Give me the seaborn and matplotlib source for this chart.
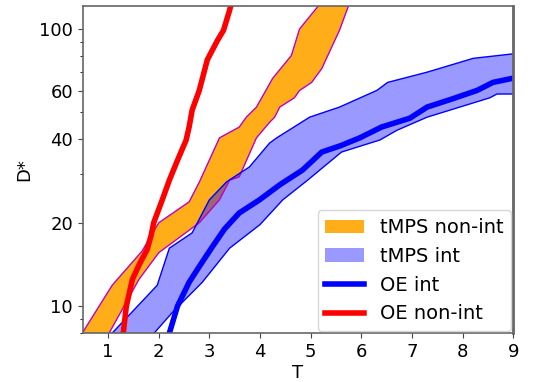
import numpy as np
import pandas as pd
import seaborn as sns
import matplotlib.pyplot as plt
from matplotlib.ticker import FixedLocator, NullFormatter, FixedFormatter

plt.rcParams['font.family'] = ['DejaVu Sans']

# OE non-int (red line)
red_T = [1.30, 1.36, 1.48, 1.62, 1.77, 1.85, 1.90, 2.07, 2.21, 2.37, 2.54, 2.60, 2.66, 2.80, 2.96, 3.16, 3.28, 3.40, 3.43]
red_D = [8.0, 10.0, 12.5, 14.2, 16.0, 18.0, 20.0, 24.2, 28.5, 33.6, 39.7, 44.3, 51.0, 60.0, 77.5, 91.0, 99.0, 117.0, 123.0]

# OE int (thick blue line)
blue_T = [2.21, 2.37, 2.60, 2.80, 3.06, 3.30, 3.59, 3.99, 4.40, 4.84, 5.22, 5.60, 5.97, 6.40, 6.96, 7.30, 7.80, 8.29, 8.60, 9.00]
blue_D = [8.0, 10.0, 12.2, 13.9, 16.4, 19.0, 21.7, 24.2, 27.5, 31.0, 36.0, 38.0, 40.5, 44.3, 47.7, 52.3, 56.0, 60.1, 64.2, 66.5]

# tMPS int band edges
int_up_T = [1.08, 1.97, 2.21, 2.66, 3.00, 3.34, 3.79, 4.19, 4.33, 4.98, 5.57, 6.31, 6.52, 7.30, 8.21, 9.00]
int_up_D = [8.0, 11.9, 16.2, 18.4, 24.2, 28.1, 31.8, 38.8, 40.5, 48.1, 52.3, 60.1, 64.2, 69.9, 78.4, 81.4]
int_lo_T = [1.91, 2.27, 2.86, 3.40, 4.00, 4.45, 4.94, 5.61, 6.37, 6.70, 7.30, 8.54, 8.68, 9.00]
int_lo_D = [8.0, 9.5, 12.2, 16.2, 19.7, 24.2, 28.5, 36.0, 39.8, 43.1, 48.1, 56.5, 58.3, 58.3]

# tMPS non-int band edges
non_up_T = [0.49, 1.08, 1.67, 2.00, 2.60, 2.80, 3.06, 3.20, 3.59, 3.73, 3.93, 4.25, 4.62, 4.78, 5.18]
non_up_D = [8.0, 11.9, 15.8, 20.0, 23.8, 28.0, 35.6, 40.5, 44.3, 48.1, 52.3, 66.4, 80.3, 100.0, 123.0]
non_lo_T = [1.02, 1.61, 2.00, 2.80, 3.20, 3.40, 3.59, 3.93, 4.19, 4.29, 4.39, 4.68, 4.78, 5.02, 5.22, 5.57, 5.76]
non_lo_D = [8.0, 12.5, 15.6, 20.0, 24.2, 28.5, 29.3, 40.5, 46.1, 48.1, 52.3, 56.5, 60.0, 64.2, 72.0, 99.0, 123.0]

fig = plt.figure(figsize=(5.34, 3.82), dpi=100)
ax = fig.add_axes([0.155, 0.128, 0.806, 0.856])
ax.set_yscale('log')

# bands: upper edge forward, lower edge reversed
ax.fill(non_up_T + non_lo_T[::-1], non_up_D + non_lo_D[::-1],
        color='orange', alpha=0.9, lw=0, label='tMPS non-int')
ax.plot(non_up_T, non_up_D, color='m', lw=1)
ax.plot(non_lo_T, non_lo_D, color='m', lw=1)

ax.fill(int_up_T + int_lo_T[::-1], int_up_D + int_lo_D[::-1],
        color='blue', alpha=0.4, lw=0, label='tMPS int')
ax.plot(int_up_T, int_up_D, color='blue', lw=1)
ax.plot(int_lo_T, int_lo_D, color='blue', lw=1)

df_blue = pd.DataFrame({'T': blue_T, 'D': blue_D})
df_red = pd.DataFrame({'T': red_T, 'D': red_D})
sns.lineplot(data=df_blue, x='T', y='D', color='blue', lw=4, label='OE int', ax=ax, estimator=None)
sns.lineplot(data=df_red, x='T', y='D', color='red', lw=4, label='OE non-int', ax=ax, estimator=None)

ax.set_xlim(0.5, 9)
ax.set_ylim(8.0, 121)
ax.set_xticks([1, 2, 3, 4, 5, 6, 7, 8, 9])
ax.yaxis.set_major_locator(FixedLocator([10, 20, 40, 60, 100]))
ax.yaxis.set_major_formatter(FixedFormatter(['10', '20', '40', '60', '100']))
ax.yaxis.set_minor_locator(FixedLocator([8, 9, 30, 50, 70, 80, 90]))
ax.yaxis.set_minor_formatter(NullFormatter())
ax.tick_params(labelsize=13, color='#444444')
ax.set_xlabel('T', fontsize=13, labelpad=2)
ax.set_ylabel('D*', fontsize=13)

for s in ax.spines.values():
    s.set_color('#666666')
    s.set_linewidth(1.2)
ax.spines['right'].set_linewidth(2)

ax.legend(loc='lower right', fontsize=14, framealpha=0.8, handlelength=2.0, borderaxespad=0.1)

plt.savefig('out.png', dpi=100)
